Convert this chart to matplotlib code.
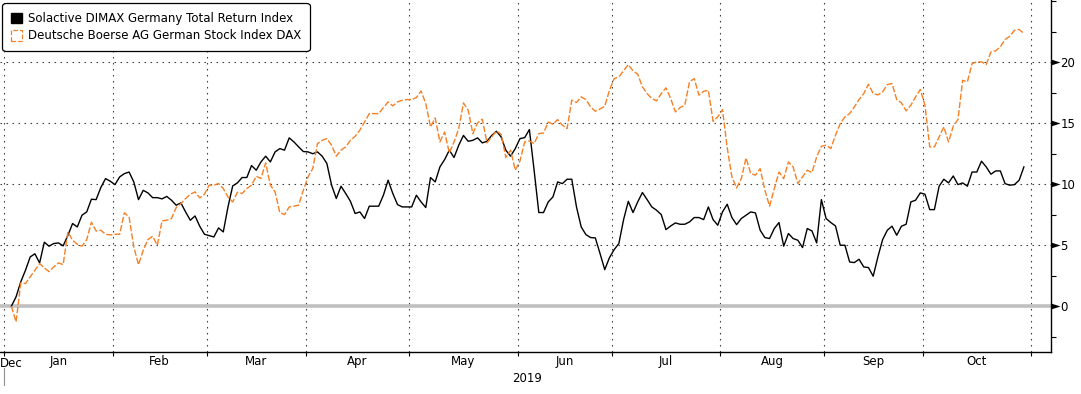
import numpy as np
import pandas as pd
import matplotlib
matplotlib.use('Agg')
import matplotlib.pyplot as plt
from matplotlib.patches import Patch
from matplotlib.ticker import FixedLocator

# cumulative return (%) since start, one value per weekday 2019-01-02 .. 2019-10-30
solactive = [
    0.0, 0.77, 2.0, 2.95, 4.04, 4.3, 3.55, 5.25, 4.92, 5.14, 5.19, 4.95, 5.8, 6.78, 6.5,
    7.46, 7.73, 8.77, 8.74, 9.73, 10.46, 10.25, 9.97, 10.6, 10.87, 11.0, 10.19, 8.74, 9.5,
    9.29, 8.9, 8.9, 8.8, 9.0, 8.69, 8.28,
    8.47, 7.73, 7.05, 7.4, 6.56, 5.9, 5.79, 5.68, 6.42, 6.09, 8.14, 9.86, 10.11, 10.55,
    10.55, 11.53, 11.15, 11.83, 12.3, 11.83, 12.65, 12.92, 12.79, 13.8, 13.47, 13.06, 12.68,
    12.65, 12.5, 12.65, 12.3, 11.7, 9.92, 8.83, 9.84, 9.24, 8.6,
    7.6, 7.73, 7.19, 8.2, 8.2, 8.2, 9.1, 10.33, 9.24, 8.33, 8.14, 8.14, 8.14, 9.1, 8.55,
    8.09, 10.55, 10.19, 11.42, 12.02, 12.79, 12.19, 13.2, 14.0, 13.52, 13.6, 13.8, 13.39,
    13.52, 14.0, 14.34, 13.88, 12.79, 12.3, 12.92, 13.74, 13.82, 14.48,
    11.15, 7.68, 7.68, 8.55, 8.96, 10.19, 10.05, 10.41, 10.41, 8.14, 6.5, 5.87, 5.63, 5.6,
    4.32, 3.0, 3.98, 4.64, 5.14, 7.1, 8.6, 7.68, 8.55, 9.32, 8.74, 8.14, 7.87, 7.51, 6.28,
    6.58, 6.83, 6.72, 6.72, 6.91, 7.27, 7.27, 7.1,
    8.14, 7.1, 6.64, 7.73, 8.36, 7.27, 6.69, 7.19, 7.46, 7.73, 7.65, 6.23, 5.63, 5.55, 6.37,
    6.86, 4.92, 5.96, 5.55, 5.41, 4.81, 6.37, 6.17, 5.19, 8.74, 7.19, 6.86, 6.58, 5.0, 5.0,
    3.63, 3.58, 3.85, 3.22, 3.17, 2.46, 4.04,
    5.46, 6.23, 6.56, 5.82, 6.56, 6.72,
    8.55, 8.69, 9.29, 9.18, 7.92, 7.92, 9.84, 10.41, 10.11, 10.68, 9.97, 10.11, 9.84, 11.0,
    11.0, 11.89, 11.42, 10.82, 11.09, 11.09, 10.05, 9.92, 9.97, 10.33, 11.42,
]
dax = [
    0.0, -1.28, 1.91, 1.86, 2.4, 2.95, 3.5, 3.14, 2.84, 3.22, 3.55, 3.41, 6.09, 5.41, 5.08,
    4.92, 5.46, 6.89, 6.17, 6.23, 5.9, 5.85, 5.9, 5.9, 7.66, 7.32, 4.86, 3.41, 4.59, 5.46,
    5.74, 5.0, 7.0, 7.05, 7.19, 8.09,
    8.41, 8.83, 9.18, 9.37, 8.88, 9.18, 9.92, 9.92, 10.06, 9.65, 8.96, 8.55, 9.34, 9.24,
    9.65, 9.92, 10.66, 10.47, 11.75, 9.92, 9.37, 7.68, 7.51, 8.14, 8.2, 8.28, 9.51, 10.6,
    11.29, 13.33, 13.6, 13.74, 13.2, 12.3, 12.79, 13.06, 13.6,
    13.93, 14.43, 15.1, 15.79, 15.79, 15.79, 16.28, 16.75, 16.42, 16.75, 16.89, 16.94, 16.94,
    17.1, 17.65, 16.61, 14.7, 15.43, 13.47, 14.28, 12.57, 13.47, 14.56, 16.66, 16.07, 14.15,
    15.03, 15.33, 13.39, 13.88, 14.37, 14.1, 12.19, 12.79, 11.15, 11.91, 13.47,
    13.55, 13.33, 14.15, 14.2, 15.1, 14.92, 15.3, 14.84, 14.56, 16.89, 16.7, 17.16, 16.94,
    16.34, 15.98, 16.17, 16.39, 17.7, 18.66, 18.8, 19.29, 19.81, 19.29, 19.02, 17.98, 17.43,
    17.02, 16.83, 17.43, 17.9, 17.02, 15.93, 16.28, 16.48, 18.39, 18.66, 17.3, 17.62,
    17.7, 15.16, 15.52, 16.12, 13.0, 10.6, 9.7, 10.46, 12.16, 10.87, 10.74, 11.28, 9.51,
    8.2, 9.64, 11.0, 10.46, 11.83, 11.42, 10.06, 10.6, 11.15, 10.96, 12.24, 13.11, 13.2,
    12.92, 14.02, 14.97, 15.52, 15.79, 16.34, 16.94, 17.43, 18.2, 17.43, 17.32,
    17.57, 18.17, 18.25, 16.94, 16.67, 16.01,
    16.48, 17.16, 17.76, 16.48, 13.06, 13.06, 13.88, 14.7, 13.47, 14.75, 15.3, 18.52, 18.39,
    19.89, 20.03, 20.03, 19.81, 20.84, 20.93, 21.26, 21.86, 22.13, 22.62, 22.68, 22.35,
]
labels = ['Solactive DIMAX Germany Total Return Index',
          'Deutsche Boerse AG German Stock Index DAX']
months = ['Jan', 'Feb', 'Mar', 'Apr', 'May', 'Jun', 'Jul', 'Aug', 'Sep', 'Oct']
yticks = [0, 5, 10, 15, 20]
yminor = [-2.5, 2.5, 7.5, 12.5, 17.5, 22.5, 25]

ORANGE = '#f58025'
FS = 8.5
plt.rcParams['font.family'] = ['DejaVu Sans']

# x axis is a weekday axis (Bloomberg style)
axis_days = pd.bdate_range('2018-12-31', '2019-10-31')
days = pd.bdate_range('2019-01-02', periods=len(solactive))
pos = axis_days.get_indexer(days)

starts = pd.date_range('2019-01-01', '2019-11-01', freq='MS')
bounds = np.searchsorted(axis_days, starts) - 0.5
centers = (bounds[:-1] + bounds[1:]) / 2

fig = plt.figure(figsize=(10.81, 3.94), dpi=100)
ax = fig.add_axes([0, 0.1066, 0.972, 0.8934])

ax.axhline(0, color='#c0c0c0', lw=2.6, zorder=1)
ax.plot(pos, solactive, color='black', lw=1.0, zorder=3)
ax.plot(pos, dax, color=ORANGE, lw=1.0, dashes=(4.5, 1.5), zorder=4)

ax.set_xlim(-0.41, 222.7)
ax.set_ylim(-3.75, 25.1)

for s in ['left', 'top']:
    ax.spines[s].set_visible(False)
ax.spines['right'].set_linewidth(1.0)
ax.spines['bottom'].set_linewidth(1.0)

# x: boundaries as ticks + grid, month names in the middle
ax.set_xticks(bounds)
ax.set_xticklabels([])
ax.set_xticks(centers, minor=True)
ax.set_xticklabels(months, minor=True, fontsize=FS)
ax.tick_params(axis='x', which='major', length=3, width=0.8, direction='out')
ax.tick_params(axis='x', which='minor', length=0, pad=2.5)
ax.text(0, -0.014, 'Dec', transform=ax.transAxes, ha='left', va='top', fontsize=FS)
ax.text((bounds[0] + 222.7) / 2, -0.074, '2019', transform=ax.get_xaxis_transform(),
        ha='center', va='center', fontsize=FS)
ax.plot([bounds[0], bounds[0]], [-0.045, -0.095], color='#909090', lw=0.8,
        transform=ax.get_xaxis_transform(), clip_on=False)

# y: right side, arrow heads on the major ticks
ax.yaxis.tick_right()
ax.set_yticks(yticks)
ax.set_yticklabels([str(v) for v in yticks], fontsize=FS)
ax.yaxis.set_minor_locator(FixedLocator(yminor))
ax.tick_params(axis='y', which='major', length=0, pad=6.8)
ax.tick_params(axis='y', which='minor', length=3.5, width=0.8, direction='out')
arrow = [(0, -0.32), (1, 0), (0, 0.32), (0, -0.32)]
ax.plot(np.ones(len(yticks)), yticks, ls='none', marker=arrow, ms=13, mew=0,
        color='black', transform=ax.get_yaxis_transform(), clip_on=False, zorder=5)

grid_kw = dict(color='#404040', lw=0.8, ls=(0, (1.4, 4.0)))
ax.xaxis.grid(True, which='major', **grid_kw)
ax.yaxis.grid(True, which='major', **grid_kw)
ax.set_axisbelow(True)

handles = [Patch(facecolor='black', edgecolor='black'),
           Patch(facecolor='white', edgecolor=ORANGE, linestyle='--', lw=0.9)]
leg = ax.legend(handles, labels, loc='upper left', bbox_to_anchor=(0.0045, 0.985),
                fontsize=FS, frameon=True, fancybox=True, framealpha=1,
                handlelength=0.95, handleheight=0.95, handletextpad=0.45,
                borderpad=0.55, labelspacing=0.4, borderaxespad=0)
leg.get_frame().set_edgecolor('black')
leg.get_frame().set_linewidth(0.9)
leg.get_frame().set_boxstyle('round', pad=0.2, rounding_size=0.3)

fig.savefig('out.png', dpi=100)
